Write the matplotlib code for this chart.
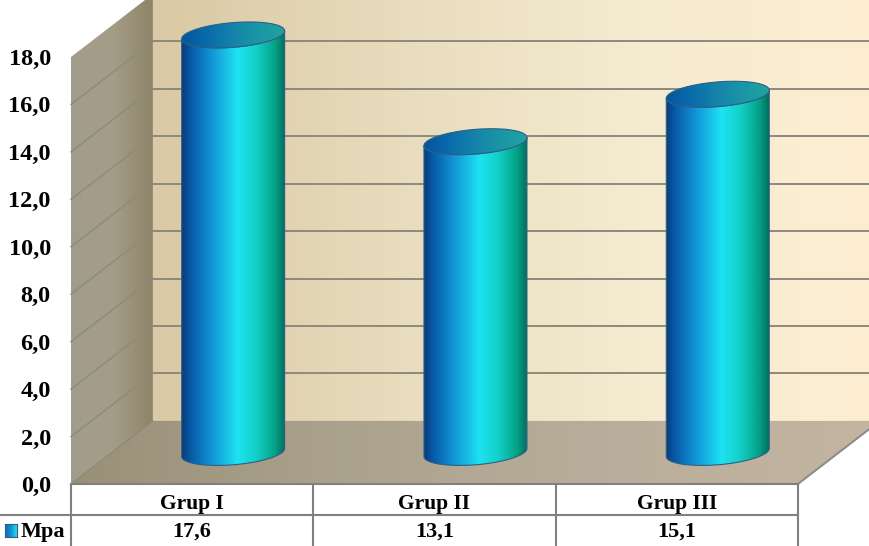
import numpy as np
from matplotlib import pyplot as plt
from matplotlib.colors import LinearSegmentedColormap
from matplotlib.patches import Polygon

# Data
groups = ["Grup I", "Grup II", "Grup III"]
mpa = [17.6, 13.1, 15.1]
series_name = "Mpa"
y_ticks = [0, 2, 4, 6, 8, 10, 12, 14, 16, 18]

# 3D look: depth of the box and size of the columns, in data units
DX = 0.338
DY = 2.66
COL_W = 0.2125
COL_B = 0.52
COL_TILT = 0.17

COL_COLORS = [(0.0, "#0a3c78"), (0.08, "#0759a6"), (0.3, "#1298d8"), (0.54, "#1fe2f2"),
              (0.72, "#12d0c8"), (0.9, "#04a488"), (1.0, "#00705f")]
TOP_COLORS = ["#0455a0", "#0a6cab", "#1584aa", "#1b96a6", "#20a4a0"]


def fill_gradient(ax, verts, colors, zorder, edge=None):
    # Horizontal gradient clipped to the polygon
    verts = np.asarray(verts)
    cmap = LinearSegmentedColormap.from_list("g", colors)
    extent = (verts[:, 0].min(), verts[:, 0].max(), verts[:, 1].min(), verts[:, 1].max())
    im = ax.imshow(np.linspace(0, 1, 256).reshape(1, -1), cmap=cmap, extent=extent,
                   aspect="auto", zorder=zorder, interpolation="bilinear")
    poly = Polygon(verts, closed=True, fc="none", ec=edge or "none", lw=0.8,
                   zorder=zorder + 0.1, clip_on=False)
    ax.add_patch(poly)
    im.set_clip_box(ax.figure.bbox)  # the 3D box sticks out of the axes
    im.set_clip_path(poly)


def draw_column(ax, x, value):
    cx = x + DX / 2
    base = DY / 2
    top = value + DY / 2
    t_low = np.linspace(np.pi, 2 * np.pi, 60)
    t_all = np.linspace(0, 2 * np.pi, 120)

    def ring(t, yc):
        return np.column_stack([cx + COL_W * np.cos(t),
                                yc + COL_B * np.sin(t) + COL_TILT * np.cos(t)])

    body = np.vstack([ring(t_low, base), ring(t_low[::-1], top)])
    fill_gradient(ax, body, COL_COLORS, 3, edge="#2f5f86")
    fill_gradient(ax, ring(t_all, top), TOP_COLORS, 4, edge="#2f5f86")


plt.rcParams["font.family"] = ["Liberation Serif", "DejaVu Serif"]
plt.rcParams["font.weight"] = "bold"

fig = plt.figure(figsize=(8.69, 5.46), dpi=100)
ax = fig.add_axes([71 / 869, 62 / 546, 727 / 869, 427 / 546])

n = len(groups)
x_left, x_right = -0.5, n - 0.5
y_top = y_ticks[-1]

# Back wall, side wall and floor
fill_gradient(ax, [(x_left + DX, DY), (x_right + DX, DY), (x_right + DX, y_top + DY), (x_left + DX, y_top + DY)],
              ["#d9c9a4", "#e8dcbd", "#f5ebd0", "#fdeed2"], 1)
fill_gradient(ax, [(x_left, 0), (x_left + DX, DY), (x_left + DX, y_top + DY), (x_left, y_top)],
              ["#a19c8b", "#a59d88", "#8e8469"], 1)
fill_gradient(ax, [(x_left, 0), (x_right, 0), (x_right + DX, DY), (x_left + DX, DY)],
              ["#9a9078", "#aba28d", "#b9ae9b", "#c3b5a0"], 1)

# Grid lines on the walls
grid_color = "#8c8a7c"
for v in y_ticks[1:-1]:
    ax.plot([x_left + DX, x_right + DX], [v + DY, v + DY], color=grid_color, lw=1.4, zorder=2, clip_on=False)
    ax.plot([x_left, x_left + DX], [v, v + DY], color=grid_color, lw=1.0, zorder=2, clip_on=False)
ax.plot([x_left, x_left + DX], [0, DY], color=grid_color, lw=1.0, zorder=2, clip_on=False)
ax.plot([x_right, x_right + DX], [0, DY], color="#8a8a8a", lw=1.4, zorder=2, clip_on=False)

for i, v in enumerate(mpa):
    draw_column(ax, i, v)

ax.set_xlim(x_left, x_right)
ax.set_ylim(0, y_top)
for s in ax.spines.values():
    s.set_visible(False)

ax.set_yticks(y_ticks)
ax.set_yticklabels([f"{v:.1f}".replace(".", ",") for v in y_ticks], fontsize=17.5)
ax.tick_params(axis="y", length=0, pad=14.5)
ax.set_xticks(range(n))
ax.set_xticklabels(groups, fontsize=15.5)
ax.tick_params(axis="x", length=0, pad=7)

# Data table under the chart
table_color = "#808080"
low = ax.get_xaxis_transform()
row1 = -31 / 427
row2 = -62 / 427
for x in np.arange(n + 1) - 0.5:
    ax.plot([x, x], [0, row2], transform=low, color=table_color, lw=1.5, clip_on=False, zorder=5)
ax.plot([x_left, x_right], [0, 0], transform=low, color=table_color, lw=1.5, clip_on=False, zorder=5)
ax.plot([-0.5 - 71 / 242.33, x_right], [row1, row1], transform=low, color=table_color, lw=1.5, clip_on=False, zorder=5)
for i, v in enumerate(mpa):
    ax.text(i, -48 / 427, f"{v:.1f}".replace(".", ","), transform=low, ha="center", va="center", fontsize=16)

# Legend key and name in the table row
key = fig.add_axes([5 / 869, 9 / 546, 12 / 869, 13 / 546])
key.imshow(np.linspace(0, 1, 64).reshape(1, -1), cmap=LinearSegmentedColormap.from_list("k", ["#0a6cb8", "#1192d4", "#1fe2f2"]),
           aspect="auto")
key.set_xticks([])
key.set_yticks([])
for s in key.spines.values():
    s.set_color("#3a5a78")
    s.set_linewidth(0.8)
fig.text(21 / 869, 14 / 546, series_name, ha="left", va="center", fontsize=16)

fig.savefig("out.png", dpi=100)
